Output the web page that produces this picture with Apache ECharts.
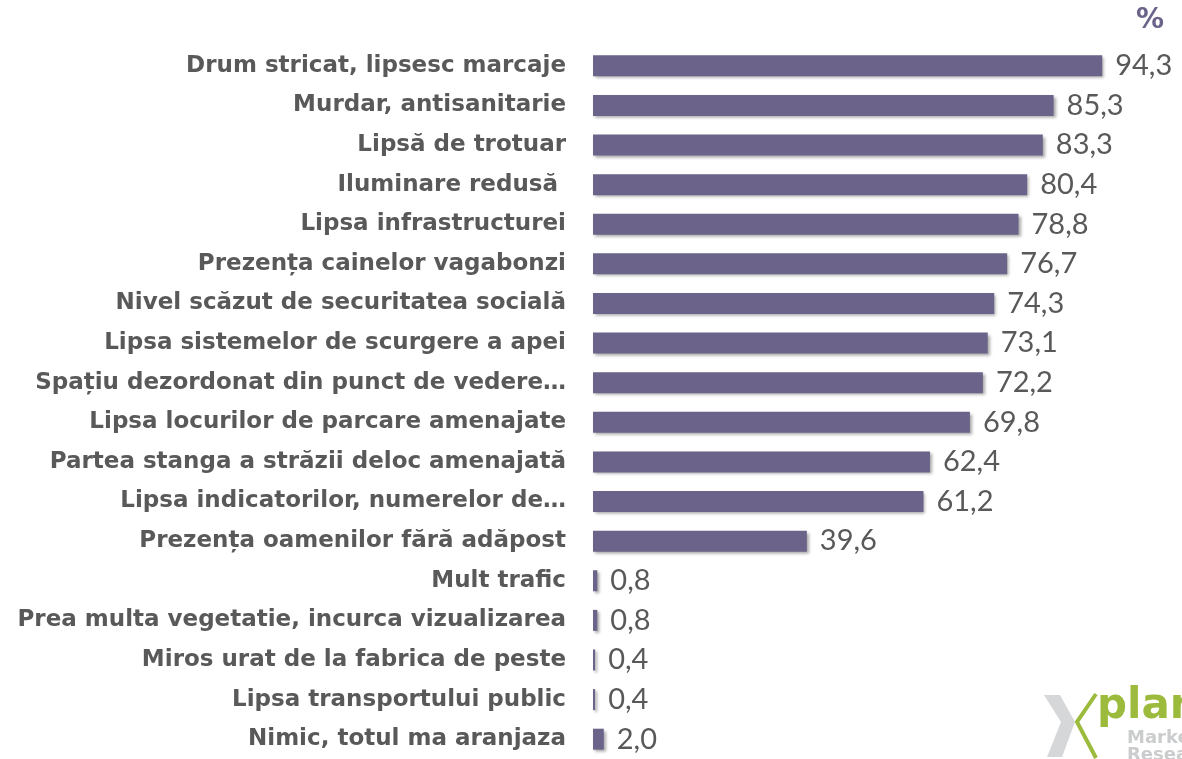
<!DOCTYPE html>
<html>
<head>
<meta charset="utf-8">
<script src="https://cdn.jsdelivr.net/npm/echarts@6/dist/echarts.min.js"></script>
<style>
  html, body { margin: 0; padding: 0; background: #ffffff; }
  #chart { width: 1182px; height: 759px; }
</style>
</head>
<body>
<div id="chart"></div>
<script>
  // categorii, de sus in jos
  var categories = [
    'Drum stricat, lipsesc marcaje',
    'Murdar, antisanitarie',
    'Lipsă de trotuar',
    'Iluminare redusă ',
    'Lipsa infrastructurei',
    'Prezența cainelor vagabonzi',
    'Nivel scăzut de securitatea socială',
    'Lipsa sistemelor de scurgere a apei',
    'Spațiu dezordonat din punct de vedere…',
    'Lipsa locurilor de parcare amenajate',
    'Partea stanga a străzii deloc amenajată',
    'Lipsa indicatorilor, numerelor de…',
    'Prezența oamenilor fără adăpost',
    'Mult trafic',
    'Prea multa vegetatie, incurca vizualizarea',
    'Miros urat de la fabrica de peste',
    'Lipsa transportului public',
    'Nimic, totul ma aranjaza'
  ];
  var values = [94.3, 85.3, 83.3, 80.4, 78.8, 76.7, 74.3, 73.1, 72.2, 69.8, 62.4, 61.2, 39.6, 0.8, 0.8, 0.4, 0.4, 2.0];

  var chart = echarts.init(document.getElementById('chart'));
  var option = {
    backgroundColor: '#ffffff',
    animation: false,
    grid: {
      left: 593,
      right: 49,
      top: 46,
      bottom: -7
    },
    xAxis: {
      type: 'value',
      min: 0,
      max: 100,
      show: false
    },
    yAxis: {
      type: 'category',
      inverse: true,
      data: categories,
      axisLine: { show: false },
      axisTick: { show: false },
      axisLabel: {
        margin: 27,
        fontFamily: 'DejaVu Sans',
        fontWeight: 'bold',
        fontSize: 23,
        color: '#595959'
      }
    },
    series: [{
      type: 'bar',
      data: values,
      barWidth: 21,
      itemStyle: {
        color: '#6b6389',
        shadowColor: 'rgba(0,0,0,0.35)',
        shadowBlur: 3,
        shadowOffsetX: 2,
        shadowOffsetY: 2
      },
      label: {
        show: true,
        position: 'right',
        distance: 13,
        fontFamily: 'Lato',
        fontSize: 29,
        color: '#595959',
        formatter: function (p) {
          return p.value.toFixed(1).replace('.', ',');
        }
      }
    }],
    graphic: [
      {
        type: 'text', left: 1136, top: 7,
        style: { text: '%', fontFamily: 'DejaVu Sans', fontWeight: 'bold', fontSize: 28, fill: '#6b6389' }
      },
      // logo
      {
        type: 'polygon',
        shape: { points: [[1044,695],[1060,695],[1075,722],[1062,757],[1047,757],[1061,722]] },
        style: { fill: '#d6d7d9' }
      },
      {
        type: 'polyline',
        shape: { points: [[1096,694],[1077,722],[1096,758]] },
        style: { stroke: '#9cbb3c', lineWidth: 4, fill: null }
      },
      {
        type: 'text', left: 1097, top: 686,
        style: { text: 'plan', fontFamily: 'DejaVu Sans', fontWeight: 'bold', fontSize: 42, fill: '#9cbb3c' }
      },
      {
        type: 'text', left: 1127, top: 729,
        style: { text: 'Market', fontFamily: 'DejaVu Sans', fontWeight: 'bold', fontSize: 18, fill: '#cbcccd' }
      },
      {
        type: 'text', left: 1127, top: 746,
        style: { text: 'Research', fontFamily: 'DejaVu Sans', fontWeight: 'bold', fontSize: 18, fill: '#cbcccd' }
      }
    ]
  };
  chart.setOption(option);
  window.addEventListener('resize', function () {
    chart.resize();
  });
</script>
</body>
</html>
